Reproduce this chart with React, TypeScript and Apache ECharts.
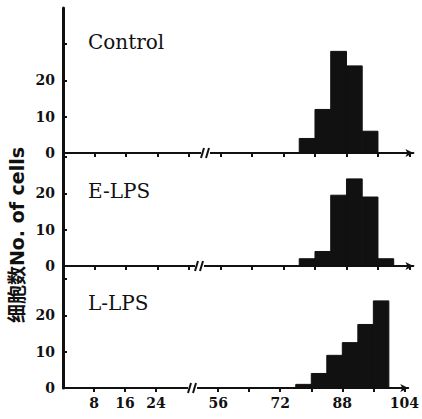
import React, { useEffect, useRef } from "react";
import * as echarts from "echarts";

// ---- data (actual x units: relative DNA content / fluorescence channel) ----
const binStarts = [76, 80, 84, 88, 92, 96];
const binWidth = 4;
const controlCounts = [4, 12, 28, 24, 6, 0];
const eLpsCounts = [2, 4, 19.5, 24, 19, 2];
const lLpsCounts = [1, 4, 9, 12.5, 17.5, 24];
const panelNames = ["Control", "E-LPS", "L-LPS"];
const xTickValues = [8, 16, 24, 32, 56, 64, 72, 80, 88, 96, 104];
const xLabelValues = [8, 16, 24, 56, 72, 88, 104];
const yTickValues = [0, 10, 20, 30];
const yLabelValues = [0, 10, 20];
const yTitle = "细胞数No. of cells";

// broken axis: values above the break are shifted left by 16 units
const BREAK_SHIFT = 16;
const toDisplay = (a: number) => (a <= 32 ? a : a - BREAK_SHIFT);
const fromDisplay = (d: number) => (d <= 32 ? d : d + BREAK_SHIFT);

// ---- layout ----
const LEFT = 63;
const PX_PER_UNIT_Y = 3.63;
const X_MAX = 89;
const GRID_W = 350.4;
const panels = [
  { top: 8, height: 145, breakX: 205, counts: controlCounts, labelY: 42 },
  { top: 153, height: 113, breakX: 199, counts: eLpsCounts, labelY: 191 },
  { top: 266, height: 122, breakX: 192, counts: lLpsCounts, labelY: 303 },
];

const INK = "#111";
const SERIF = '"DejaVu Serif", "Liberation Serif", serif';

export default function App() {
  const ref = useRef<HTMLDivElement>(null);

  useEffect(() => {
    if (!ref.current) return;
    const chart = echarts.init(ref.current, undefined, { renderer: "svg" });

    const grids = panels.map((p) => ({
      left: LEFT,
      top: p.top,
      width: GRID_W,
      height: p.height,
      containLabel: false,
    }));

    const xAxes = panels.map((p, i) => ({
      type: "value",
      gridIndex: i,
      min: 0,
      max: X_MAX,
      interval: 8,
      axisLine: {
        show: true,
        onZero: false,
        symbol: ["none", "arrow"],
        symbolSize: [6, 8],
        lineStyle: { color: INK, width: 2 },
      },
      axisTick: {
        show: true,
        inside: false,
        length: 4,
        lineStyle: { color: INK, width: 2 },
        customValues: xTickValues
          .filter((v) => !(i === 2 && v === 32))
          .map(toDisplay),
      },
      axisLabel: {
        show: i === 2,
        customValues: xLabelValues.map(toDisplay),
        formatter: (v: number) => String(fromDisplay(v)),
        margin: 8,
        color: INK,
        fontFamily: SERIF,
        fontWeight: "bold",
        fontSize: 14,
      },
      splitLine: { show: false },
    }));

    const yAxes = panels.map((p, i) => ({
      type: "value",
      gridIndex: i,
      min: 0,
      max: p.height / PX_PER_UNIT_Y,
      interval: 10,
      axisLine: { show: true, lineStyle: { color: INK, width: 3 } },
      axisTick: {
        show: true,
        inside: true,
        length: 4,
        lineStyle: { color: INK, width: 2 },
        customValues: yTickValues,
      },
      axisLabel: {
        customValues: yLabelValues,
        margin: 8,
        color: INK,
        fontFamily: SERIF,
        fontWeight: "bold",
        fontSize: 14,
      },
      splitLine: { show: false },
    }));

    const series = panels.map((p, i) => ({
      type: "custom",
      name: panelNames[i],
      xAxisIndex: i,
      yAxisIndex: i,
      encode: { x: [0, 1], y: 2 },
      data: binStarts.map((s, k) => [
        toDisplay(s),
        toDisplay(s + binWidth),
        p.counts[k],
      ]),
      renderItem: (_params: any, api: any) => {
        const p0 = api.coord([api.value(0), api.value(2)]);
        const p1 = api.coord([api.value(1), 0]);
        return {
          type: "rect",
          shape: {
            x: p0[0],
            y: p0[1],
            width: p1[0] - p0[0],
            height: p1[1] - p0[1],
          },
          style: { fill: INK, stroke: INK, lineWidth: 1 },
        };
      },
    }));

    const graphics: any[] = [];
    panels.forEach((p, i) => {
      graphics.push({
        type: "text",
        x: 88,
        y: p.labelY,
        z: 100,
        style: {
          text: panelNames[i],
          fontSize: 20,
          fontFamily: SERIF,
          fill: INK,
          align: "left",
          verticalAlign: "middle",
        },
      });
      const ay = p.top + p.height;
      const bx = p.breakX;
      graphics.push({
        type: "rect",
        z: 100,
        shape: { x: bx - 4, y: ay - 3, width: 9, height: 6 },
        style: { fill: "#fff" },
      });
      graphics.push({
        type: "line",
        z: 101,
        shape: { x1: bx - 4, y1: ay + 5, x2: bx - 1, y2: ay - 5 },
        style: { stroke: INK, lineWidth: 2 },
      });
      graphics.push({
        type: "line",
        z: 101,
        shape: { x1: bx + 1, y1: ay + 5, x2: bx + 4, y2: ay - 5 },
        style: { stroke: INK, lineWidth: 2 },
      });
    });
    graphics.push({
      type: "text",
      x: 17,
      y: 235,
      rotation: Math.PI / 2,
      z: 100,
      style: {
        text: yTitle,
        fontSize: 19,
        fontWeight: "bold",
        fontFamily: '"DejaVu Sans", "Noto Sans CJK SC", sans-serif',
        fill: INK,
        align: "center",
        verticalAlign: "middle",
      },
    });

    chart.setOption({
      animation: false,
      backgroundColor: "#fff",
      grid: grids,
      xAxis: xAxes,
      yAxis: yAxes,
      series,
      graphic: graphics,
    });

    return () => chart.dispose();
  }, []);

  return (
    <div
      ref={ref}
      style={{ position: "fixed", left: 0, top: 0, width: 422, height: 419 }}
    />
  );
}
